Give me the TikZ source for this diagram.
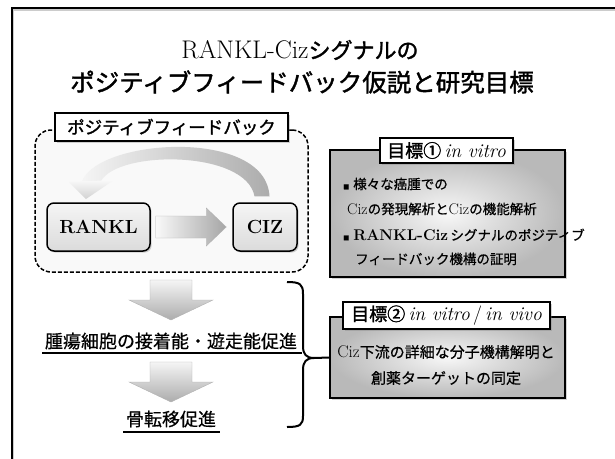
\documentclass[tikz,border=0pt]{standalone}
\usepackage{fontspec}
\newfontfamily\jp{Noto Sans CJK JP}[FakeBold=0.6]
\newfontfamily\jpb{Noto Sans CJK JP}[FakeBold=1.6]
\usetikzlibrary{shadows,calc}
\newcommand\J[1]{{\jp #1}}
\newcommand\JB[1]{{\jpb #1}}
\newcommand\Lat[1]{{\fontsize{15.5}{16}\selectfont #1}}
\tikzset{
  shad/.style={drop shadow={shadow xshift=1.6pt,shadow yshift=-1.6pt,opacity=0.35}},
  goalbox/.style={draw=black,line width=1.8pt,inner color=gray!6,outer color=gray!55,shad,minimum width=235pt,inner sep=0pt},
  labelbox/.style={draw=black,line width=1.5pt,fill=white,shad,inner sep=0pt},
  genebox/.style={draw=black,line width=1.5pt,rounded corners=7pt,top color=gray!8,bottom color=gray!28,shad,minimum height=48pt,inner sep=0pt,font=\fontsize{19}{22}\selectfont\bfseries},
  fatarrow/.style={draw=gray!60,line width=0.4pt},
  bodytext/.style={inner sep=0pt,font=\fontsize{13.5}{16}\selectfont},
}
\begin{document}
\begin{tikzpicture}[x=1pt,y=-1pt]
\useasboundingbox (0,0) rectangle (615,458);
% frame
\draw[gray!40,line width=1.5pt] (13.5,470) -- (13.5,10) -- (630,10);
\draw[black,line width=2pt] (12,470) -- (12,8) -- (630,8);

% title
\node[inner sep=0pt] (t1) at (300,50) {\fontsize{25.5}{28}\selectfont RANKL-Ciz{\jpb\fontsize{22}{28}\selectfont シグナルの}};
\node[inner sep=0pt,font=\fontsize{24.5}{28}\selectfont\jpb] (t2) at (302,82) {ポジティブフィードバック仮説と研究目標};

% positive feedback area
\node[draw=black,dash pattern=on 4pt off 2pt,line width=1.5pt,rounded corners=16pt,fill=gray!5,minimum width=273pt,minimum height=142pt,inner sep=0pt] (pf) at (171.5,201) {};
\node[labelbox,minimum width=233pt,minimum height=28pt,font=\fontsize{17.5}{20}\selectfont\jpb] (pfl) at (171.5,127) {ポジティブフィードバック};

\node[genebox,minimum width=103pt] (rankl) at (98.5,227) {RANKL};
\node[genebox,minimum width=64pt] (ciz) at (265,227) {CIZ};

% horizontal arrow RANKL -> CIZ
\path[fatarrow,left color=gray!5,right color=gray!70]
  ($(rankl.east)+(5,-11)$) -- ($(ciz.west)+(-26,-11)$) -- ($(ciz.west)+(-26,-19)$)
  -- ($(ciz.west)+(-6,0)$) -- ($(ciz.west)+(-26,19)$) -- ($(ciz.west)+(-26,11)$)
  -- ($(rankl.east)+(5,11)$) -- cycle;

% curved feedback arrow CIZ -> RANKL
\path[left color=gray!8,right color=gray!65]
  ($(ciz.north)+(4.5,-6)$) .. controls (266,128) and (100,138) .. (82,181)
  -- (101,181) .. controls (118,150) and (246,150) .. ($(ciz.north)+(-10.5,-6)$) -- cycle;
\path[top color=gray!5,bottom color=gray!35]
  (69,182) -- (114,180) -- (86,199) -- cycle;

% down arrows
\coordinate (d1) at (171,280);
\path[fatarrow,top color=gray!8,bottom color=gray!65]
  ($(d1)+(-21,0)$) -- ($(d1)+(21,0)$) -- ($(d1)+(21,20)$) -- ($(d1)+(42,20)$)
  -- ($(d1)+(0,40)$) -- ($(d1)+(-42,20)$) -- ($(d1)+(-21,20)$) -- cycle;
\node[inner sep=0pt,font=\fontsize{18}{21}\selectfont\jp] (e1) at (171,341) {腫瘍細胞の接着能・遊走能促進};
\draw[line width=2.2pt] (42,353) -- (302,353);
\coordinate (d2) at (171,362);
\path[fatarrow,top color=gray!8,bottom color=gray!65]
  ($(d2)+(-21,0)$) -- ($(d2)+(21,0)$) -- ($(d2)+(21,20)$) -- ($(d2)+(42,20)$)
  -- ($(d2)+(0,40)$) -- ($(d2)+(-42,20)$) -- ($(d2)+(-21,20)$) -- cycle;
\node[inner sep=0pt,font=\fontsize{18}{21}\selectfont\jp] (e2) at (171,419) {骨転移促進};
\draw[line width=2.2pt] (123,432) -- (220,432);

% brace
\coordinate (bt) at (314,358);
\draw[line width=2pt,line join=round]
  (287,282) .. controls (300,282) and (303,284) .. (303,294)
  -- (303,346) .. controls (303,354) and (306,358) .. (bt)
  .. controls (306,358) and (303,362) .. (303,370)
  -- (303,416) .. controls (303,425) and (300,427) .. (287,427);

% goal 1
\node[goalbox,minimum height=127pt] (g1) at (447.5,213.5) {};
\node[labelbox,minimum width=133pt,minimum height=25pt] (g1l) at (446.5,150.5)
  {{\fontsize{18}{19}\selectfont\jpb 目標①}\ {\fontsize{19.5}{19}\selectfont\textit{in vitro}}};
\node[bodytext,anchor=west] (b1) at (343,184) {\J{\scalebox{0.45}{■}\hspace{4pt}様々な癌腫での}};
\node[bodytext,anchor=west] (b2) at (347,209) {\Lat{Ciz}\J{の発現解析と}\Lat{Ciz}\J{の機能解析}};
\node[bodytext,anchor=west] (b3) at (343,235) {\J{\scalebox{0.45}{■}}\hspace{4pt}\Lat{\bfseries RANKL-Ciz}\,\J{シグナルのポジティブ}};
\node[bodytext,anchor=west] (b4) at (355,259) {\J{フィードバック機構の証明}};

% goal 2
\node[goalbox,minimum height=81pt] (g2) at (447.5,357.5) {};
\node[labelbox,minimum width=207pt,minimum height=27pt] (g2l) at (446.5,315.5)
  {{\fontsize{18}{19}\selectfont\jpb 目標②}\ {\fontsize{19.5}{19}\selectfont\textit{in vitro}\,/\,\textit{in vivo}}};
\node[inner sep=0pt,font=\fontsize{15}{18}\selectfont] (c1) at (446,352) {{\fontsize{17}{18}\selectfont Ciz}\J{下流の詳細な分子機構解明と}};
\node[inner sep=0pt,font=\fontsize{15}{18}\selectfont] (c2) at (446,378) {\J{創薬ターゲットの同定}};

\draw[line width=2pt] (bt) -- (g2.west);
\end{tikzpicture}
\end{document}
